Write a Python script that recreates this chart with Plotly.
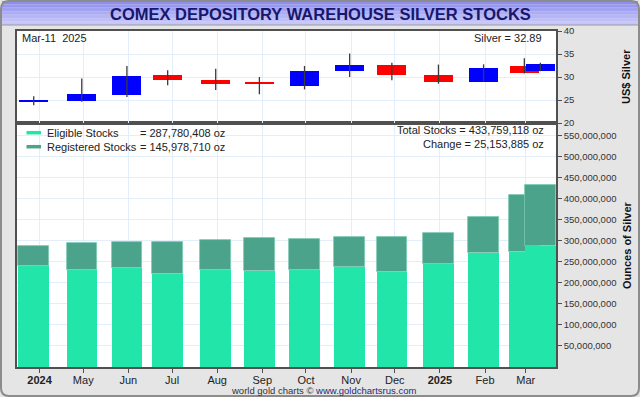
import plotly.graph_objects as go

# ---------------- data ----------------
dates = ["2024-03-28", "2024-04-30", "2024-05-31", "2024-06-28", "2024-07-31",
         "2024-08-30", "2024-09-30", "2024-10-31", "2024-11-29", "2024-12-31",
         "2025-01-31", "2025-02-28", "2025-03-11"]
silver_open = [24.5, 24.8, 26.1, 30.4, 29.3, 29.0, 28.05, 31.25, 32.7, 30.4, 29.0, 32.3, 31.25]
silver_high = [25.8, 29.65, 32.4, 31.45, 31.8, 30.0, 32.4, 35.1, 33.1, 32.7, 32.75, 34.1, 33.1]
silver_low = [23.85, 24.6, 25.65, 28.2, 27.2, 26.25, 27.3, 30.0, 29.3, 28.55, 29.0, 30.75, 31.25]
silver_close = [25.0, 26.2, 30.2, 29.35, 28.55, 28.4, 31.3, 32.7, 30.5, 29.0, 32.05, 30.95, 32.89]
eligible = [240.0e6, 229.7e6, 234.5e6, 220.2e6, 229.7e6, 228.0e6, 229.7e6,
            236.8e6, 225.7e6, 244.0e6, 271.7e6, 273.2e6, 287780408]
registered = [47.4e6, 64.1e6, 63.3e6, 77.6e6, 72.8e6, 78.4e6, 74.3e6,
              71.2e6, 82.3e6, 73.5e6, 83.8e6, 135.4e6, 145978710]
tick_dates = ["2024-04-01", "2024-05-01", "2024-06-01", "2024-07-01", "2024-08-01",
              "2024-09-01", "2024-10-01", "2024-11-01", "2024-12-01", "2025-01-01",
              "2025-02-01", "2025-03-01"]
tick_text = ["<b>2024</b>", "May", "Jun", "Jul", "Aug", "Sep", "Oct", "Nov", "Dec",
             "<b>2025</b>", "Feb", "Mar"]
stock_ticks = [50e6 * k for k in range(1, 12)]
price_ticks = [20, 25, 30, 35, 40]

# ---------------- geometry ----------------
W, H = 640, 397
ML, MR, MT, MB = 17, 84, 31, 30
PW, PH = W - ML - MR, H - MT - MB
split = 1 - 92 / PH


def px(x):
    return (x - ML) / PW


def py(y):
    return (H - MB - y) / PH


DAY = 86400000
ELIG_C = "#22e5aa"
REG_C = "#4aa38a"
FONT = "Liberation Sans, Arial, sans-serif"

fig = go.Figure()

# ---- stocks (bottom panel) ----
for sl in (slice(0, len(dates) - 1), slice(len(dates) - 1, len(dates))):
    d = dates[sl]
    e = eligible[sl]
    r = registered[sl]
    fig.add_trace(go.Bar(x=d, y=e, base=[0] * len(e), width=[21 * DAY] * len(e),
                         marker=dict(color=ELIG_C, line=dict(width=0)),
                         xaxis="x", yaxis="y", showlegend=False, hoverinfo="skip"))
    fig.add_trace(go.Bar(x=d, y=r, base=e, width=[21 * DAY] * len(r),
                         marker=dict(color=REG_C, line=dict(width=0.8, color="#7cc9b1")),
                         xaxis="x", yaxis="y", showlegend=False, hoverinfo="skip"))

# ---- silver candles (top panel) ----
wx, wy = [], []
for d, lo, hi in zip(dates, silver_low, silver_high):
    wx += [d, d, None]
    wy += [lo, hi, None]
fig.add_trace(go.Scatter(x=wx, y=wy, mode="lines", line=dict(color="#3a3a3a", width=1.3),
                         xaxis="x2", yaxis="y2", showlegend=False, hoverinfo="skip"))
body_base = [min(o, c) for o, c in zip(silver_open, silver_close)]
body_len = [max(abs(c - o), 0.15) for o, c in zip(silver_open, silver_close)]
body_col = ["#0000ff" if c >= o else "#ff0000" for o, c in zip(silver_open, silver_close)]
fig.add_trace(go.Bar(x=dates, y=body_len, base=body_base, width=[20 * DAY] * len(dates),
                     marker=dict(color=body_col, line=dict(width=0)),
                     xaxis="x2", yaxis="y2", showlegend=False, hoverinfo="skip"))

axis_common = dict(showline=True, linecolor="#505050", linewidth=1.5, mirror=True,
                   gridcolor="#e2effa", gridwidth=1, zeroline=False)

fig.update_layout(
    width=W, height=H,
    margin=dict(l=ML, r=MR, t=MT, b=MB, pad=0),
    paper_bgcolor="#e5e5e5", plot_bgcolor="#ffffff",
    barmode="overlay", bargap=0,
    font=dict(family=FONT, size=10, color="#333333"),
    xaxis=dict(type="date", range=["2024-03-16 12:00", "2025-03-21 18:00"],
               domain=[0, 1], anchor="y", tickmode="array", tickvals=tick_dates,
               ticktext=tick_text, ticks="outside", ticklen=4, tickcolor="#505050",
               ticklabelstandoff=-2,
               tickfont=dict(size=11, color="#222222"), **axis_common),
    yaxis=dict(domain=[0, split], anchor="x", side="right", range=[0, 580e6],
               tickmode="array", tickvals=stock_ticks, tickformat=",d",
               ticks="outside", ticklen=4, tickcolor="#505050",
               tickfont=dict(size=9.5, color="#333333"), **axis_common),
    xaxis2=dict(type="date", matches="x", anchor="y2", domain=[0, 1],
                tickmode="array", tickvals=tick_dates, showticklabels=False,
                ticks="", **axis_common),
    yaxis2=dict(domain=[split, 1], anchor="x2", side="right", range=[20, 40],
                tickmode="array", tickvals=price_ticks, ticks="outside", ticklen=4,
                tickcolor="#505050", tickfont=dict(size=9.5, color="#333333"),
                **axis_common),
)

shapes = []
# outer frame with rounded corners
x0, x1 = px(1), px(W - 1)
y0, y1 = py(H - 1), py(1)
rx, ry = 8 / PW, 8 / PH
path = (f"M {x0+rx},{y1} L {x1-rx},{y1} Q {x1},{y1} {x1},{y1-ry} "
        f"L {x1},{y0+ry} Q {x1},{y0} {x1-rx},{y0} L {x0+rx},{y0} "
        f"Q {x0},{y0} {x0},{y0+ry} L {x0},{y1-ry} Q {x0},{y1} {x0+rx},{y1} Z")
shapes.append(dict(type="path", xref="paper", yref="paper", path=path,
                   line=dict(color="#8c8c8c", width=2), fillcolor="rgba(0,0,0,0)", layer="above"))
# title bar gradient
bands = ["#8e8eee", "#9898f0", "#a2a2f2", "#acacf5", "#b6b6f7", "#bebef9", "#c6c6fb"]
band_h = 24 / len(bands)
for i, c in enumerate(bands):
    shapes.append(dict(type="rect", xref="paper", yref="paper",
                       x0=px(2), x1=px(W - 2), y0=py(1 + (i + 1) * band_h), y1=py(1 + i * band_h),
                       line=dict(width=0), fillcolor=c, layer="below"))
shapes.append(dict(type="line", xref="paper", yref="paper", x0=px(2), x1=px(W - 2),
                   y0=py(25), y1=py(25), line=dict(color="#9a9a9a", width=1)))
# legend swatches
for yy, c in ((132.7, ELIG_C), (146.7, REG_C)):
    shapes.append(dict(type="line", xref="paper", yref="paper", x0=px(26.5), x1=px(41),
                       y0=py(yy), y1=py(yy), line=dict(color=c, width=3.5)))
fig.update_layout(shapes=shapes)

ann = []


def add(text, x, y, xanchor="left", size=11, color="#222222", **kw):
    ann.append(dict(text=text, x=px(x), y=py(y), xref="paper", yref="paper",
                    xanchor=xanchor, yanchor="middle", showarrow=False,
                    font=dict(family=FONT, size=size, color=color), **kw))


add("<b>COMEX DEPOSITORY WAREHOUSE SILVER STOCKS</b>", 320, 13.5, "center", 16.5, "#17176e")
add("Mar-11  2025", 20, 38)
add(f"Silver = {silver_close[-1]:.2f}", 544, 38, "right")
add("Eligible Stocks", 45, 132.7)
add(f"= {eligible[-1]:,.0f} oz", 137.5, 132.7)
add("Registered Stocks", 45, 146.7)
add(f"= {registered[-1]:,.0f} oz", 137.5, 146.7)
total_now = eligible[-1] + registered[-1]
add(f"Total Stocks = {total_now:,.0f} oz", 546, 130, "right")
add("Change = 25,153,885 oz", 546, 144, "right")
add("<b>US$ Silver</b>", 626, 77, "center", 11, "#111111", textangle=-90)
add("<b>Ounces of Silver</b>", 627, 245, "center", 11, "#111111", textangle=-90)
add("world gold charts © <span style='color:#1f2a7a'>www.goldchartsrus.com</span>",
    323, 390.5, "center", 9.5, "#333333")
fig.update_layout(annotations=ann)

fig.write_html("out.html", config={"displayModeBar": False},
               post_script="document.body.style.margin='0px';document.body.style.overflow='hidden';")
